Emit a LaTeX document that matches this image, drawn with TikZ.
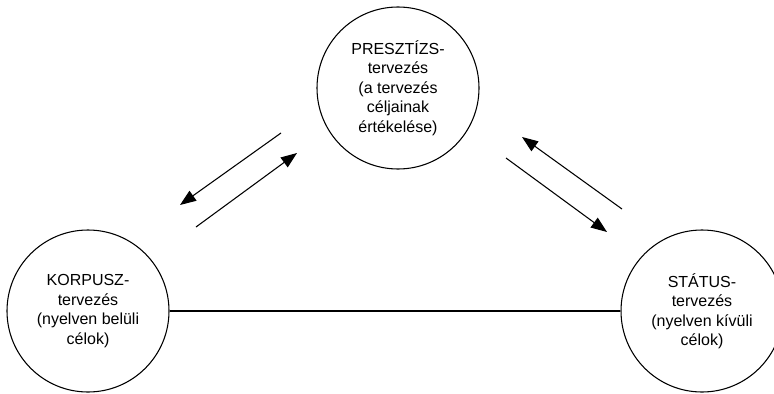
\documentclass[tikz,border=0pt]{standalone}
\usepackage{fontspec}
\setmainfont{Liberation Sans}
\usetikzlibrary{arrows.meta}
\begin{document}
\begin{tikzpicture}[x=0.75pt,y=-0.75pt,
  planbox/.style={draw, circle, line width=0.8pt, minimum size=121.5pt, inner sep=0pt,
    align=center, font=\fontsize{12pt}{14.6pt}\selectfont},
  conn/.style={line width=0.8pt},
  arr/.style={line width=0.8pt, -{Triangle[length=12pt,width=9pt]}}]
\useasboundingbox (0,0) rectangle (774,393);
\node[planbox] (P) at (398,88) {PRESZTÍZS-\\tervezés\\(a tervezés\\céljainak\\értékelése)};
\node[planbox] (K) at (88,311) {KORPUSZ-\\tervezés\\(nyelven belüli\\célok)};
\node[planbox] (S) at (702,311) {STÁTUS-\\tervezés\\(nyelven kívüli\\célok)};
\draw[conn] (K.east) -- (S.west);
\coordinate (a1s) at (281,133); \coordinate (a1e) at (180,205);
\coordinate (a2s) at (196,227); \coordinate (a2e) at (297,153);
\coordinate (b1s) at (622,209); \coordinate (b1e) at (522,137);
\coordinate (b2s) at (506,158); \coordinate (b2e) at (607,232);
\draw[arr] (a1s) -- (a1e);
\draw[arr] (a2s) -- (a2e);
\draw[arr] (b1s) -- (b1e);
\draw[arr] (b2s) -- (b2e);
\end{tikzpicture}
\end{document}
